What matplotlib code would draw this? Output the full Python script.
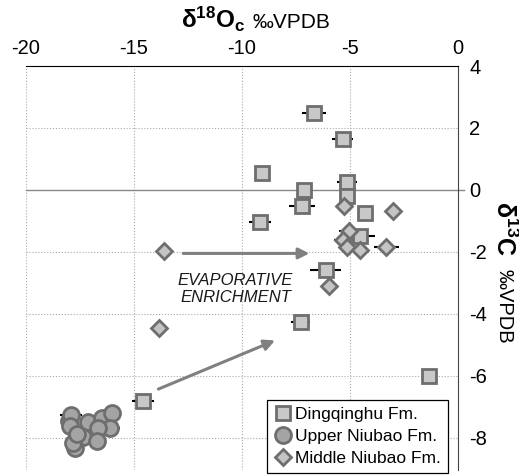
import matplotlib.pyplot as plt
from matplotlib.lines import Line2D

plt.rcParams['font.family'] = ['Liberation Sans', 'DejaVu Sans']
plt.rcParams['mathtext.fontset'] = 'custom'
plt.rcParams['mathtext.rm'] = 'Liberation Sans'
plt.rcParams['mathtext.bf'] = 'Liberation Sans:bold'

# Dingqinghu Fm. (squares)
dq_x = [-6.65, -5.34, -9.09, -5.14, -7.14, -7.21, -5.14, -4.29, -9.17, -4.54, -6.13, -7.28, -1.33, -14.57]
dq_y = [2.49, 1.63, 0.54, 0.27, 0.0, -0.52, -0.19, -0.73, -1.02, -1.48, -2.58, -4.26, -6.02, -6.81]
dq_xerr = [0.55, 0.5, 0, 0.45, 0, 0.6, 0, 0, 0.5, 0.68, 0.7, 0.45, 0, 0.5]

# Upper Niubao Fm. (circles)
un_x = [-18.0, -17.92, -17.12, -16.5, -16.0, -16.11, -17.96, -16.65, -17.35, -16.73, -17.73, -17.81, -17.62]
un_y = [-7.45, -7.28, -7.49, -7.35, -7.2, -7.69, -7.63, -7.69, -7.98, -8.09, -8.33, -8.17, -7.87]
un_xerr = [0, 0.5, 0, 0, 0, 0.45, 0, 0, 0, 0.45, 0, 0, 0]

# Middle Niubao Fm. (diamonds)
mn_x = [-5.26, -3.02, -5.05, -5.31, -5.12, -4.54, -3.33, -5.99, -13.61, -13.83]
mn_y = [-0.52, -0.67, -1.31, -1.63, -1.83, -1.94, -1.83, -3.1, -1.97, -4.46]
mn_xerr = [0.4, 0, 0.45, 0.45, 0, 0, 0.58, 0, 0, 0]

edge = '#6e6e6e'
sq_face = '#c8c8c8'
ci_face = '#a4a4a4'
di_face = '#c4c4c4'

fig = plt.figure(figsize=(5.19, 4.75), dpi=100)
ax = fig.add_axes([0.05, 0.01, 0.8325, 0.851])

ax.set_xlim(-20, 0)
ax.set_ylim(-9.05, 4)

# grid
for gx in [-20, -15, -10, -5]:
    ax.axvline(gx, color='#aaaaaa', lw=0.8, ls=':', zorder=0)
for gy in [2, -2, -4, -6, -8]:
    ax.axhline(gy, color='#aaaaaa', lw=0.8, ls=':', zorder=0)
ax.axhline(0, xmin=0, xmax=1.015, color='#888888', lw=1, zorder=0, clip_on=False)

# error bars
ax.errorbar(dq_x, dq_y, xerr=dq_xerr, fmt='none', ecolor='black', elinewidth=1.5, zorder=1)
ax.errorbar(un_x, un_y, xerr=un_xerr, fmt='none', ecolor='black', elinewidth=1.5, zorder=1)
ax.errorbar(mn_x, mn_y, xerr=mn_xerr, fmt='none', ecolor='black', elinewidth=1.5, zorder=1)

# points
ax.plot(dq_x, dq_y, ls='none', marker='s', ms=10.5, mfc=sq_face, mec=edge, mew=2, zorder=3)
ax.plot(un_x, un_y, ls='none', marker='o', ms=11.5, mfc=ci_face, mec=edge, mew=2, zorder=3)
ax.plot(mn_x, mn_y, ls='none', marker='D', ms=8.5, mfc=di_face, mec=edge, mew=2, zorder=4)

# arrows
arrow_kw = dict(arrowstyle='-|>', color='#808080', lw=2.2, mutation_scale=16, shrinkA=0, shrinkB=0)
ax.annotate('', xy=(-6.88, -2.05), xytext=(-12.72, -2.05), arrowprops=arrow_kw, zorder=2)
ax.annotate('', xy=(-8.47, -4.86), xytext=(-13.87, -6.43), arrowprops=arrow_kw, zorder=2)

ax.text(-10.3, -3.2, 'EVAPORATIVE\nENRICHMENT', ha='center', va='center',
        style='italic', fontsize=12, linespacing=1.15, color='#1a1a1a')

# axes styling
ax.spines['left'].set_visible(False)
ax.spines['bottom'].set_visible(False)
ax.spines['top'].set_color('black')
ax.spines['right'].set_color('#444444')
ax.xaxis.tick_top()
ax.yaxis.tick_right()
ax.set_xticks([-20, -15, -10, -5, 0])
ax.set_xticklabels(['-20', '-15', '-10', '-5', '0'])
ax.set_yticks([4, 2, 0, -2, -4, -6, -8])
ax.set_yticklabels(['4', '2', '0', '-2', '-4', '-6', '-8'])
ax.tick_params(axis='x', length=0, pad=6, labelsize=14.5)
ax.tick_params(axis='y', length=0, pad=8, labelsize=14.5)

# titles
fig.text(0.472, 0.941, r'$\mathbf{δ^{18}O_c}$', ha='right', va='baseline', fontsize=17.5)
fig.text(0.487, 0.941, '‰VPDB', ha='left', va='baseline', fontsize=15)
fig.text(0.972, 0.52, r'$\mathbf{δ^{13}C}$', ha='center', va='center', rotation=270, fontsize=18)
fig.text(0.972, 0.356, '‰VPDB', ha='center', va='center', rotation=270, fontsize=14.5)

# legend
handles = [
    Line2D([], [], ls='none', marker='s', ms=10.5, mfc=sq_face, mec=edge, mew=2, label='Dingqinghu Fm.'),
    Line2D([], [], ls='none', marker='o', ms=11.5, mfc=ci_face, mec=edge, mew=2, label='Upper Niubao Fm.'),
    Line2D([], [], ls='none', marker='D', ms=8.5, mfc=di_face, mec=edge, mew=2, label='Middle Niubao Fm.'),
]
leg = ax.legend(handles=handles, loc='lower right', bbox_to_anchor=(0.977, -0.007),
                borderaxespad=0, fontsize=12.5, fancybox=False, framealpha=1,
                edgecolor='black', handlelength=1.0, handletextpad=0.2,
                borderpad=0.4, labelspacing=0.4)
leg.get_frame().set_linewidth(0.9)
leg.set_zorder(5)

fig.savefig('out.png', dpi=100)
